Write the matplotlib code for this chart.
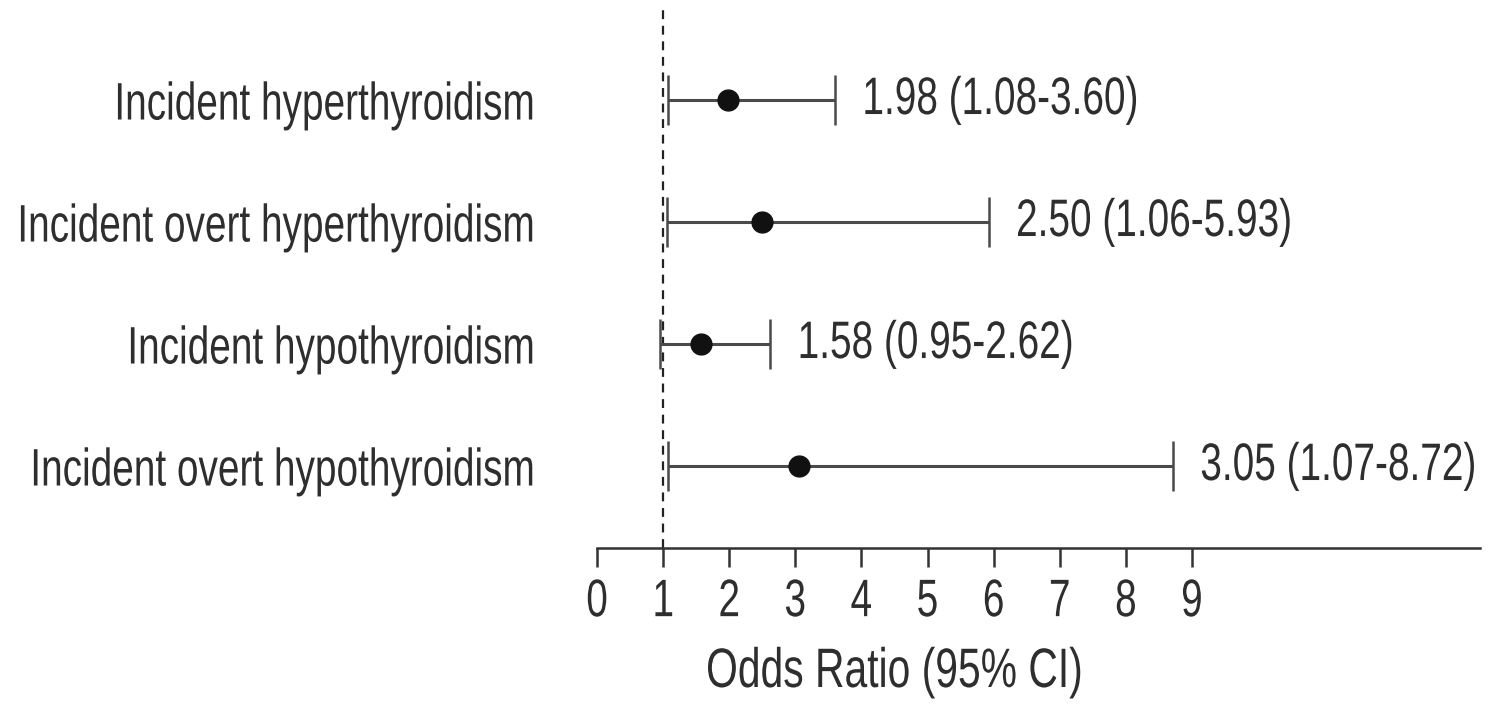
import matplotlib
matplotlib.use("Agg")
import matplotlib.pyplot as plt
from matplotlib.patheffects import AbstractPathEffect
from matplotlib.transforms import Affine2D, Bbox

outcomes = ["Incident hyperthyroidism", "Incident overt hyperthyroidism",
            "Incident hypothyroidism", "Incident overt hypothyroidism"]
odds_ratio = [1.98, 2.50, 1.58, 3.05]
ci_low = [1.08, 1.06, 0.95, 1.07]
ci_high = [3.60, 5.93, 2.62, 8.72]
x_ticks = [0, 1, 2, 3, 4, 5, 6, 7, 8, 9]

plt.rcParams['font.family'] = ["Liberation Sans", "DejaVu Sans"]


class HSqueeze(AbstractPathEffect):
    """Compress text horizontally about its left / right / centre."""
    def __init__(self, sx=0.74, anchor="center"):
        super().__init__()
        self.sx = sx
        self.anchor = anchor

    def draw_path(self, renderer, gc, tpath, affine, rgbFace=None):
        ext = tpath.get_extents(affine)
        if self.anchor == "left":
            x0 = ext.x0
        elif self.anchor == "right":
            x0 = ext.x1
        else:
            x0 = 0.5 * (ext.x0 + ext.x1)
        t = affine + Affine2D().translate(-x0, 0).scale(self.sx, 1).translate(x0, 0)
        renderer.draw_path(gc, tpath, t, rgbFace)


def squeeze(text, sx, anchor):
    text.set_path_effects([HSqueeze(sx, anchor)])
    orig = text.get_window_extent

    def extent(renderer=None, dpi=None):
        bb = orig(renderer, dpi)
        if anchor == "left":
            x0 = bb.x0
        elif anchor == "right":
            x0 = bb.x1
        else:
            x0 = 0.5 * (bb.x0 + bb.x1)
        return Bbox([[x0 + (bb.x0 - x0) * sx, bb.y0], [x0 + (bb.x1 - x0) * sx, bb.y1]])

    text.get_window_extent = extent
    return text


SX = 0.735
W, H = 1491, 706
fig = plt.figure(figsize=(W / 100, H / 100), dpi=100)
ax = fig.add_axes([597 / W, 1 - 548 / H, (1480 - 597) / W, (548 - 10) / H])

xmax = (1480 - 597) / 66.1
ax.set_xlim(0, xmax)
ax.set_ylim(0.328, 4.738)

tc = "#2e2e2e"
lc = "#4a4a4a"
ypos = [4, 3, 2, 1]
FS = 38

ax.axvline(1, color="#222222", lw=1.6, ls=(0, (4, 3)), zorder=1)

for y, o, lo, hi in zip(ypos, odds_ratio, ci_low, ci_high):
    ax.errorbar([o], [y], xerr=[[o - lo], [hi - o]], fmt="o", color="#111111",
                ecolor=lc, elinewidth=2.2, capsize=18, capthick=1.8, markersize=15, zorder=3)
    ann = ax.annotate(f"{o:.2f} ({lo:.2f}-{hi:.2f})", xy=(hi, y), xytext=(19, 0),
                      textcoords="offset points", ha="left", va="center",
                      fontsize=FS, color=tc)
    squeeze(ann, SX, "left")

ax.set_yticks(ypos)
ax.set_yticklabels(outcomes, fontsize=FS, color=tc)
ax.tick_params(axis="y", length=0, pad=44.6)
for t in ax.get_yticklabels():
    squeeze(t, SX, "right")

ax.set_xticks(x_ticks)
ax.set_xticklabels([str(t) for t in x_ticks], fontsize=FS, color=tc)
ax.tick_params(axis="x", length=14, width=1.8, color="#333333", pad=7, direction="out")
for t in ax.get_xticklabels():
    squeeze(t, SX, "center")

for s in ["left", "top", "right"]:
    ax.spines[s].set_visible(False)
ax.spines["bottom"].set_linewidth(1.8)
ax.spines["bottom"].set_color("#333333")

xl = ax.text(4.5, 0.328 - (673 - 548) / 122, "Odds Ratio (95% CI)", transform=ax.transData,
             ha="center", va="center", fontsize=40, color=tc, clip_on=False)
squeeze(xl, SX, "center")

fig.savefig("out.png", dpi=100, facecolor="white")
